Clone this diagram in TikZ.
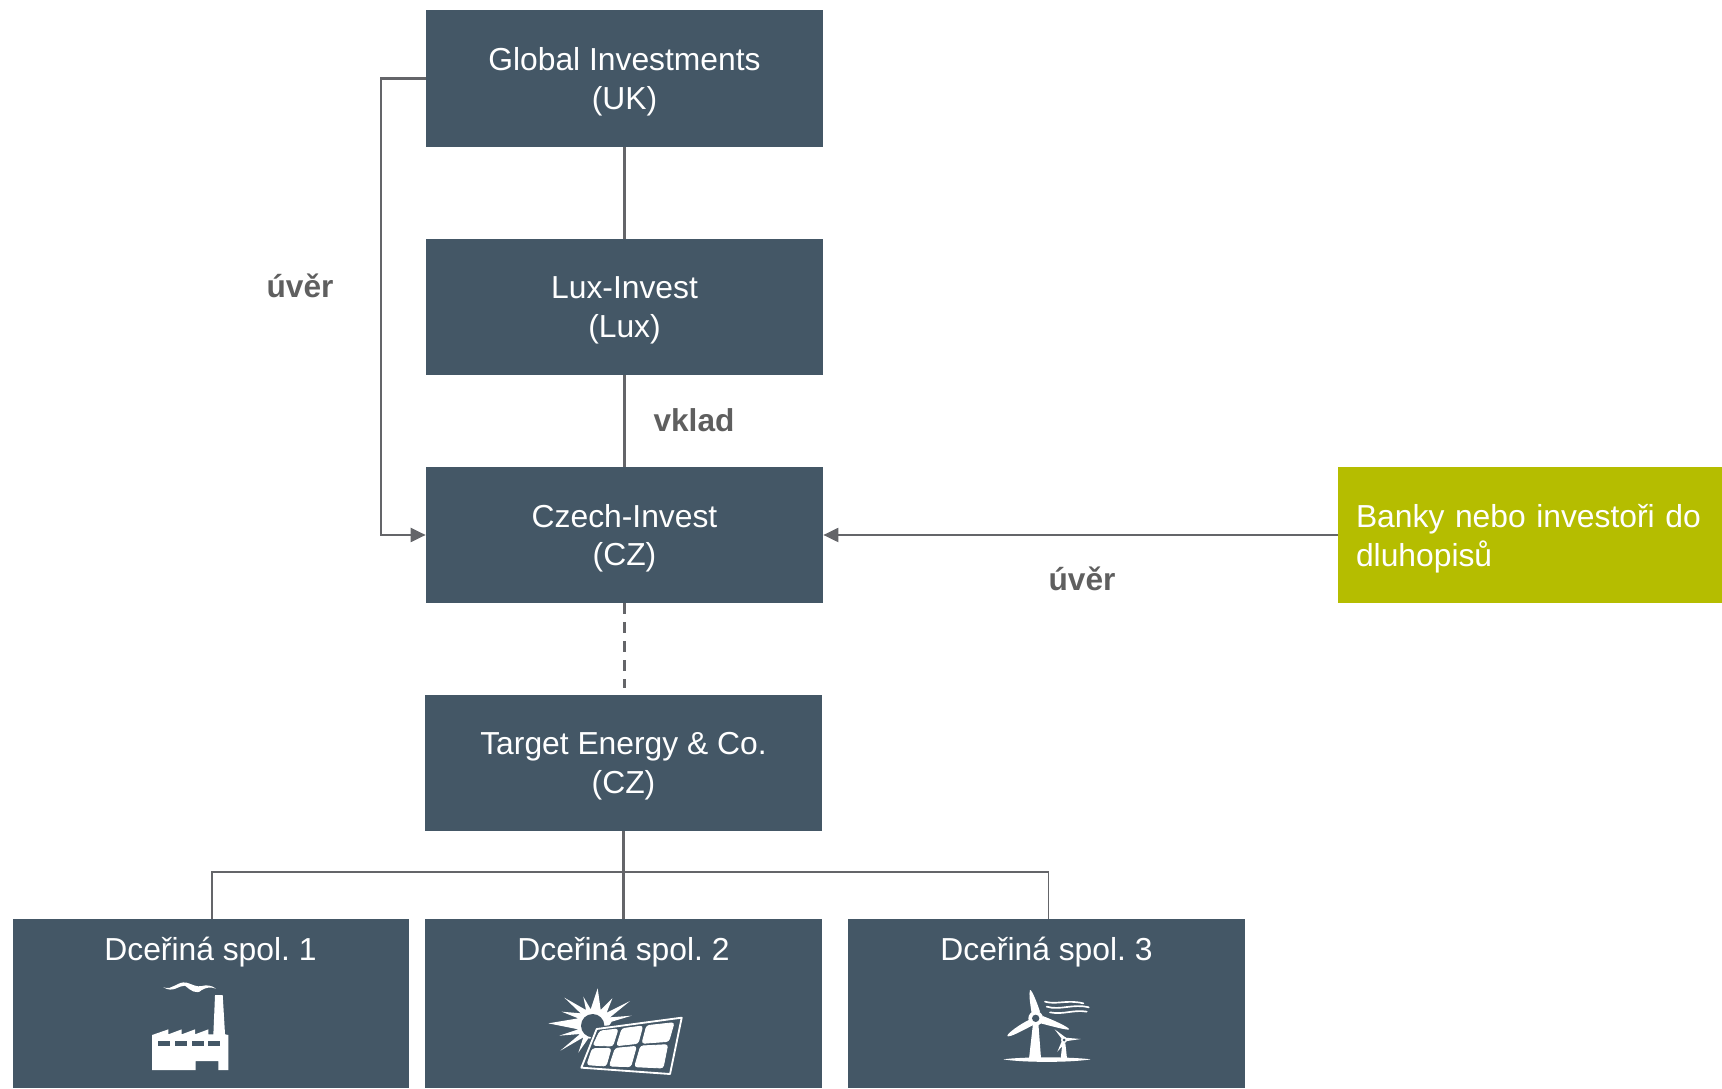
\documentclass[tikz,border=0pt]{standalone}
\usepackage{fontspec}
\setmainfont{Liberation Sans}
\usetikzlibrary{arrows.meta}
\usetikzlibrary{positioning}
\definecolor{boxblue}{HTML}{445766}
\definecolor{boxgreen}{HTML}{B5BD00}
\definecolor{linegrey}{HTML}{646569}
\definecolor{labelgrey}{HTML}{5F5F5F}
\tikzset{
firma/.style={rectangle,fill=boxblue,text=white,align=center,minimum width=7.94cm,minimum height=2.72cm,inner sep=0pt,text depth=-0.04cm,font=\fontsize{18.1}{21.8}\selectfont},
dcera/.style={firma,minimum height=3.38cm},
dceratext/.style={text=white,inner sep=0pt,font=\frenchspacing\fontsize{18.1}{21.8}\selectfont},
banka/.style={rectangle,fill=boxgreen,text=white,align=left,text width=6.96cm,inner xsep=0.36cm,inner ysep=0pt,minimum height=2.72cm,text depth=0.746cm,font=\fontsize{18.1}{21.8}\selectfont},
popis/.style={text=labelgrey,inner sep=0pt,font=\fontsize{18}{21.8}\selectfont\bfseries},
spoj/.style={linegrey,line width=1.2pt},
tenky/.style={linegrey,line width=0.6pt},
sipka/.style={spoj,-{Triangle[length=0.3cm,width=0.28cm]}},
ikona/.style={x=0.00667cm,y=-0.00667cm},
vlna/.style={white,line width=0.95pt,line cap=round},
bunka/.style={fill=white,draw=white,line width=0.5pt,rounded corners=1.5pt},
}
\begin{document}
\begin{tikzpicture}
\useasboundingbox (0,0) rectangle (34.44,21.76);
\node[firma,minimum height=2.74cm] (global) at (12.49,20.19) {Global Investments\\(UK)};
\node[firma] (lux) at (12.49,15.62) {Lux-Invest\\(Lux)};
\node[firma] (czech) at (12.49,11.06) {Czech-Invest\\(CZ)};
\node[firma] (target) at (12.47,6.5) {Target Energy \& Co.\\(CZ)};
\node[banka] (banka) at (30.6,11.06) {Banky nebo investoři do\\dluhopisů};
\node[dcera,minimum width=7.92cm] (dcera1) at (4.21,1.69) {};
\node[dcera] (dcera2) at (12.47,1.69) {};
\node[dcera] (dcera3) at (20.93,1.69) {};
\node[dceratext] (text1) at ([yshift=-0.67cm]dcera1.north) {Dceřiná spol. 1};
\node[dceratext] (text2) at ([yshift=-0.67cm]dcera2.north) {Dceřiná spol. 2};
\node[dceratext] (text3) at ([yshift=-0.67cm]dcera3.north) {Dceřiná spol. 3};
\coordinate (levy) at (7.62,20.19);
\coordinate (vetev) at (12.47,4.32);

\draw[spoj] (global) -- (lux);
\draw[spoj] (lux) -- (czech);
\draw[spoj,dash pattern=on 0.22cm off 0.16cm,shorten >=0.14cm] (czech.south) -- (czech.south |- target.north);
\draw[spoj] (target) -- (dcera2);
\draw[tenky] ([xshift=0.03cm]dcera1.north) |- (vetev) -| ([xshift=0.04cm]dcera3.north);
\draw[sipka] (global.west) -- (levy) |- (czech.west);
\draw[sipka] (banka) -- (czech);

\node[popis] (uver1) at (6,16.04) {úvěr};
\node[popis] (vklad) at (13.88,13.36) {vklad};
\node[popis] (uver2) at (21.64,10.18) {úvěr};

% tovarna
\begin{scope}[shift={(0cm,3.76cm)},ikona]
\fill[white] (456,510) -- (456,405) -- (505,388) -- (505,403) -- (545,388) -- (545,403) -- (585,388) -- (585,403) -- (625,388) -- (625,403) -- (640,403) -- (645,285) -- (668,285) -- (675,403) -- (685,405) -- (685,510) -- (655,510) -- (655,483) -- (587,483) -- (587,510) -- cycle;
\foreach \x in {473,524,575,625}
  \fill[boxblue] (\x,422) rectangle +(36,16);
\fill[white] (490,262) .. controls (520,272) and (530,242) .. (560,248) .. controls (580,254) and (590,262) .. (605,258) .. controls (620,254) and (635,256) .. (648,266) .. controls (630,260) and (620,262) .. (605,270) .. controls (590,286) and (570,270) .. (555,257) .. controls (535,256) and (520,280) .. (490,262) -- cycle;
\end{scope}

% slunce a panel
\begin{scope}[shift={(10cm,2.56cm)},ikona]
\fill[white] (145,190) -- (235,175) -- (185,155) -- (242,160) -- (193,113) -- (258,150) -- (250,110) -- (272,148) -- (293,85) -- (302,150) -- (337,115) -- (320,158) -- (390,123) -- (330,172) -- (395,167) -- (335,185) -- (300,240) -- (265,235) -- (235,278) -- (250,232) -- (181,272) -- (240,222) -- (178,227) -- (235,208) -- cycle;
\fill[boxblue] (278,197) circle (35);
\fill[boxblue,draw=boxblue,line width=1.5pt] (288,205) -- (548,170) -- (512,345) -- (240,325) -- cycle;
\draw[white,line width=1.05pt,fill=boxblue,line join=round] (290,207) -- (545,173) -- (510,342) -- (244,323) -- cycle;
\fill[bunka] (300,213) -- (354,207) -- (338,258) -- (279,256) -- cycle;
\fill[bunka] (366,206) -- (428,198) -- (414,250) -- (350,257) -- cycle;
\fill[bunka] (440,197) -- (522,188) -- (506,244) -- (426,250) -- cycle;
\fill[bunka] (277,266) -- (333,265) -- (318,318) -- (261,314) -- cycle;
\fill[bunka] (346,265) -- (409,259) -- (392,320) -- (328,318) -- cycle;
\fill[bunka] (422,258) -- (503,254) -- (489,324) -- (404,320) -- cycle;
\end{scope}

% vetrne elektrarny
\begin{scope}[shift={(19cm,2.56cm)},ikona]
\fill[white] (160,298) .. controls (220,290) and (360,290) .. (422,298) .. controls (360,308) and (220,308) .. (160,298) -- cycle;
\fill[white] (249,190) -- (265,190) -- (273,296) -- (237,296) -- cycle;
\fill[white] (240,90) .. controls (245,88) and (260,125) .. (270,155) -- (245,160) .. controls (240,130) and (236,100) .. (240,90) -- cycle;
\fill[white] (172,228) .. controls (170,222) and (205,195) .. (240,178) -- (250,195) .. controls (220,210) and (178,234) .. (172,228) -- cycle;
\fill[white] (357,208) .. controls (355,212) and (310,200) .. (272,190) -- (278,168) .. controls (310,180) and (358,202) .. (357,208) -- cycle;
\fill[white] (257,175) circle (22);
\fill[boxblue] (257,175) circle (11);
\fill[white] (337,250) -- (346,250) -- (351,296) -- (332,296) -- cycle;
\fill[white] (314,208) -- (349,234) -- (338,240) -- cycle;
\fill[white] (392,237) -- (345,244) -- (345,233) -- cycle;
\fill[white] (322,275) -- (336,242) -- (346,248) -- cycle;
\fill[white] (342,240) circle (9);
\fill[boxblue] (342,240) circle (4.5);
\draw[vlna] (285,125) .. controls (320,135) and (350,118) .. (400,130);
\draw[vlna] (290,140) .. controls (330,152) and (370,130) .. (416,142);
\draw[vlna] (300,157) .. controls (340,165) and (370,148) .. (410,155);
\end{scope}
\end{tikzpicture}
\end{document}
